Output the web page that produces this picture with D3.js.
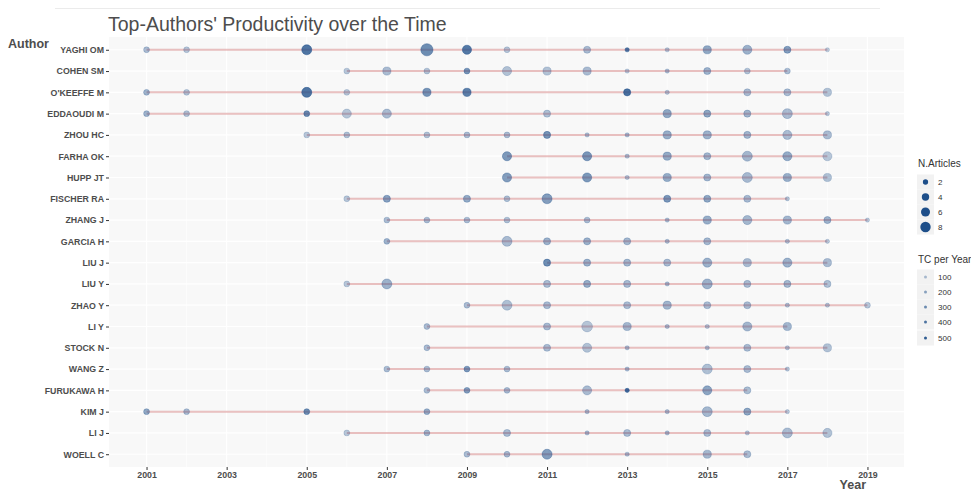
<!DOCTYPE html>
<html>
<head>
<meta charset="utf-8">
<script src="https://cdn.jsdelivr.net/npm/d3@7"></script>
<style>
  html, body { margin: 0; padding: 0; background: #ffffff; }
  svg text { font-family: "Liberation Sans", Arial, sans-serif; }
</style>
</head>
<body>
<svg id="chart" width="971" height="492"></svg>
<script>
// ---------------- DATA ----------------
const authors = ["YAGHI OM","COHEN SM","O'KEEFFE M","EDDAOUDI M","ZHOU HC","FARHA OK","HUPP JT","FISCHER RA",
  "ZHANG J","GARCIA H","LIU J","LIU Y","ZHAO Y","LI Y","STOCK N","WANG Z","FURUKAWA H","KIM J","LI J","WOELL C"];

const pubYears = [
  [2001,2002,2005,2008,2009,2010,2012,2013,2014,2015,2016,2017,2018],
  [2006,2007,2008,2009,2010,2011,2012,2013,2014,2015,2016,2017],
  [2001,2002,2005,2006,2008,2009,2013,2014,2016,2017,2018],
  [2001,2002,2005,2006,2007,2011,2014,2015,2016,2017,2018],
  [2005,2006,2008,2009,2010,2011,2012,2013,2014,2015,2016,2017,2018],
  [2010,2012,2013,2014,2015,2016,2017,2018],
  [2010,2012,2013,2014,2015,2016,2017,2018],
  [2006,2007,2009,2010,2011,2014,2015,2016,2017],
  [2007,2008,2009,2010,2012,2014,2015,2016,2017,2018,2019],
  [2007,2010,2011,2012,2013,2014,2015,2017,2018],
  [2011,2012,2013,2014,2015,2016,2017,2018],
  [2006,2007,2011,2012,2013,2014,2015,2016,2017,2018],
  [2009,2010,2011,2013,2014,2015,2016,2017,2018,2019],
  [2008,2011,2012,2013,2014,2015,2016,2017],
  [2008,2011,2012,2013,2015,2016,2017,2018],
  [2007,2008,2009,2010,2013,2015,2016,2017],
  [2008,2009,2010,2012,2013,2015,2016],
  [2001,2002,2005,2008,2012,2014,2015,2016,2017],
  [2006,2008,2010,2012,2013,2014,2015,2016,2017,2018],
  [2009,2010,2011,2013,2015,2016]
];

const nArticles = [
  [2,2,6,9,5,2,3,1,1,4,5,3,1],
  [2,4,2,2,5,4,4,1,1,3,2,2],
  [2,2,6,2,4,4,3,1,3,3,4],
  [2,2,2,5,5,3,4,3,3,6,1],
  [2,2,2,2,2,3,1,1,4,4,3,5,4],
  [5,5,1,4,3,6,5,5],
  [5,5,1,4,3,6,4,4],
  [2,3,3,2,6,3,3,3,1],
  [2,2,2,2,2,1,4,5,4,3,1],
  [2,6,3,3,3,1,3,1,1],
  [3,3,3,3,5,4,5,4],
  [2,6,3,3,3,1,6,3,3,3],
  [2,6,3,3,4,3,3,1,1,2],
  [2,3,7,4,1,1,5,4],
  [2,3,5,1,1,3,1,4],
  [2,2,2,2,1,6,3,1],
  [2,2,2,5,1,5,3],
  [2,2,2,2,1,1,6,3,1],
  [2,2,3,1,3,1,3,1,6,5],
  [2,2,6,1,4,3]
];

const tcPerYear = [
  [150,100,500,380,480,100,150,500,120,250,200,300,80],
  [100,150,120,350,120,120,150,100,150,200,120,150],
  [200,120,500,100,350,450,520,120,150,150,120],
  [200,120,400,100,150,130,250,250,180,150,100],
  [100,130,120,150,150,350,130,150,220,200,180,150,150],
  [320,330,130,230,180,170,230,100],
  [300,320,130,230,180,160,220,130],
  [100,280,230,130,300,330,250,160,120],
  [150,150,150,130,150,150,220,170,180,200,100],
  [200,150,200,200,170,150,170,130,100],
  [380,200,170,150,200,150,200,150],
  [100,200,150,220,160,150,200,150,170,130],
  [150,130,160,150,180,150,150,120,100,100],
  [150,160,100,180,150,120,170,180],
  [150,150,120,150,130,150,120,120],
  [150,150,330,150,160,130,150,120],
  [150,300,160,150,560,260,140],
  [250,150,380,220,150,150,170,250,100],
  [100,170,150,150,150,150,150,100,150,120],
  [150,160,300,150,170,150]
];

const xTicks = [2001,2003,2005,2007,2009,2011,2013,2015,2017,2019];
const sizeLegend = [2,4,6,8];
const tcLegend = [100,200,300,400,500];

// ---------------- CHART ----------------
const svg = d3.select("#chart");
const panel = {left: 109, right: 904, top: 37, bottom: 467};
const pointColor = "#1d4e89";

const x = d3.scaleLinear().domain([2000.1, 2019.9]).range([110.5, 903.5]);
const y = d3.scalePoint().domain(authors).range([panel.top, panel.bottom]).padding(0.6);
const r = d3.scaleSqrt().domain([1, 9]).range([2.1, 6.1]);
const alpha = d3.scaleLinear().domain([80, 560]).range([0.33, 1]).clamp(true);

// faint top rule
svg.append("line").attr("x1", 55).attr("x2", 880).attr("y1", 8.5).attr("y2", 8.5)
  .attr("stroke", "#ebebeb").attr("stroke-width", 1);

// panel background
svg.append("rect").attr("x", panel.left).attr("y", panel.top)
  .attr("width", panel.right - panel.left).attr("height", panel.bottom - panel.top)
  .attr("fill", "#f8f8f8");

// minor vertical grid (even years)
const g = svg.append("g");
d3.range(2000, 2021, 2).filter(v => x(v) > panel.left && x(v) < panel.right).forEach(v => {
  g.append("line").attr("x1", x(v)).attr("x2", x(v)).attr("y1", panel.top).attr("y2", panel.bottom)
    .attr("stroke", "#ffffff").attr("stroke-width", 0.6);
});
// major vertical grid
xTicks.forEach(v => {
  g.append("line").attr("x1", x(v)).attr("x2", x(v)).attr("y1", panel.top).attr("y2", panel.bottom)
    .attr("stroke", "#ffffff").attr("stroke-width", 1.2);
});
// horizontal grid
authors.forEach(a => {
  g.append("line").attr("x1", panel.left).attr("x2", panel.right).attr("y1", y(a)).attr("y2", y(a))
    .attr("stroke", "#ffffff").attr("stroke-width", 1.2);
});

// lines per author
authors.forEach((a, i) => {
  const ext = d3.extent(pubYears[i]);
  svg.append("line").attr("x1", x(ext[0])).attr("x2", x(ext[1]))
    .attr("y1", y(a)).attr("y2", y(a))
    .attr("stroke", "#b22222").attr("stroke-opacity", 0.28).attr("stroke-width", 2);
});

// points
const pts = [];
authors.forEach((a, i) => {
  pubYears[i].forEach((yr, j) => pts.push({author: a, year: yr, n: nArticles[i][j], tc: tcPerYear[i][j]}));
});
svg.append("g").selectAll("circle").data(pts).join("circle")
  .attr("cx", d => x(d.year)).attr("cy", d => y(d.author)).attr("r", d => r(d.n))
  .attr("fill", pointColor).attr("fill-opacity", d => alpha(d.tc) * 0.85)
  .attr("stroke", pointColor).attr("stroke-opacity", d => alpha(d.tc) * 0.9).attr("stroke-width", 0.6);

// x axis
const xAxis = svg.append("g").attr("transform", `translate(0,${panel.bottom})`)
  .call(d3.axisBottom(x).tickValues(xTicks).tickFormat(d3.format("d")).tickSize(3).tickPadding(2));
xAxis.select(".domain").remove();
xAxis.selectAll("line").attr("stroke", "#333333");
xAxis.selectAll("text").attr("fill", "#4d4d4d").attr("font-size", "8.8px").attr("font-weight", "bold")
  .style("font-family", "'Liberation Sans', Arial, sans-serif");

// y axis
const yAxis = svg.append("g").attr("transform", `translate(${panel.left},0)`)
  .call(d3.axisLeft(y).tickSize(3).tickPadding(2));
yAxis.select(".domain").remove();
yAxis.selectAll("line").attr("stroke", "#333333");
yAxis.selectAll("text").attr("fill", "#4d4d4d").attr("font-size", "8.8px").attr("font-weight", "bold")
  .style("font-family", "'Liberation Sans', Arial, sans-serif");

// titles
svg.append("text").attr("x", 108).attr("y", 31).attr("font-size", "19.5px").attr("fill", "#4d4d4d")
  .text("Top-Authors' Productivity over the Time");
svg.append("text").attr("x", 8).attr("y", 48).attr("font-size", "12.5px").attr("font-weight", "bold")
  .attr("fill", "#4d4d4d").text("Author");
svg.append("text").attr("x", 866).attr("y", 489).attr("text-anchor", "end").attr("font-size", "12.5px")
  .attr("font-weight", "bold").attr("fill", "#4d4d4d").text("Year");

// legends
const lg = svg.append("g");
lg.append("text").attr("x", 918).attr("y", 167).attr("font-size", "10px").attr("fill", "#333").text("N.Articles");
const sizeY = [182, 197, 212, 227];
sizeLegend.forEach((v, i) => {
  lg.append("rect").attr("x", 917).attr("y", sizeY[i] - 7.5).attr("width", 17).attr("height", 15).attr("fill", "#f2f2f2");
  lg.append("circle").attr("cx", 925.5).attr("cy", sizeY[i]).attr("r", r(v) * 0.9).attr("fill", pointColor);
  lg.append("text").attr("x", 938).attr("y", sizeY[i] + 3).attr("font-size", "8px").attr("fill", "#333").text(v);
});
lg.append("text").attr("x", 918).attr("y", 263).attr("font-size", "10px").attr("fill", "#333").text("TC per Year");
const tcY = [277, 292, 307, 322, 338];
tcLegend.forEach((v, i) => {
  lg.append("rect").attr("x", 917).attr("y", tcY[i] - 7.5).attr("width", 17).attr("height", 15).attr("fill", "#f2f2f2");
  lg.append("circle").attr("cx", 925.5).attr("cy", tcY[i]).attr("r", 1.5).attr("fill", pointColor)
    .attr("fill-opacity", alpha(v));
  lg.append("text").attr("x", 938).attr("y", tcY[i] + 3).attr("font-size", "8px").attr("fill", "#333").text(v);
});
</script>
</body>
</html>
